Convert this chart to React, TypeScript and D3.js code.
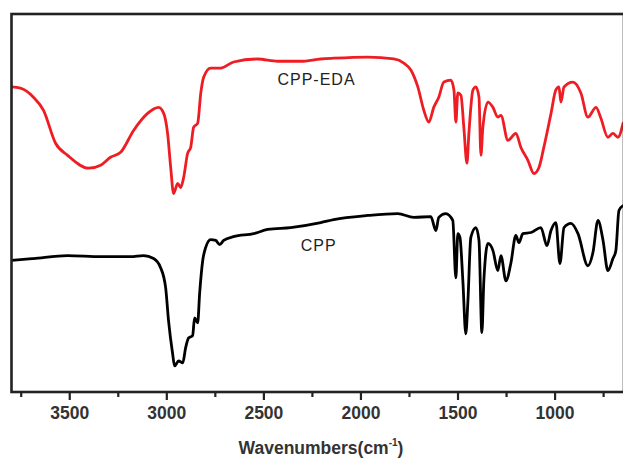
import React from "react";
import * as d3 from "d3";

// CPP-EDA (red) spectrum: wavenumber (cm-1) and transmittance (a.u.)
const edaWn = [3800, 3754, 3687, 3635, 3573, 3511, 3403, 3341, 3290, 3238, 3171, 3099, 3042, 3016, 2996, 2980, 2965, 2944, 2929, 2913, 2893, 2877, 2862, 2841, 2825, 2810, 2774, 2723, 2656, 2532, 2429, 2310, 2207, 2140, 1965, 1831, 1779, 1743, 1707, 1676, 1650, 1625, 1599, 1573, 1537, 1521, 1511, 1501, 1485, 1470, 1454, 1444, 1423, 1408, 1392, 1382, 1372, 1346, 1320, 1295, 1279, 1243, 1202, 1176, 1140, 1109, 1083, 1058, 1021, 996, 980, 970, 954, 908, 867, 831, 789, 764, 728, 702, 676, 650];
const edaT = [80.7, 80.4, 78.0, 74.5, 65.8, 62.6, 59.2, 60.0, 62.1, 63.4, 69.2, 73.7, 75.3, 73.7, 68.4, 59.4, 52.5, 55.2, 54.1, 56.8, 63.1, 64.7, 70.0, 71.1, 79.1, 83.3, 85.7, 85.7, 87.3, 88.1, 87.5, 87.5, 88.1, 88.3, 88.6, 88.1, 87.0, 85.2, 80.7, 74.5, 71.4, 75.3, 78.0, 82.0, 82.5, 79.9, 71.4, 79.1, 78.5, 70.0, 60.5, 68.4, 79.9, 80.7, 78.0, 62.6, 70.0, 76.7, 75.3, 72.7, 73.2, 66.6, 68.4, 64.7, 61.3, 57.8, 59.4, 64.7, 73.7, 79.9, 80.7, 76.7, 80.7, 82.0, 79.1, 72.7, 75.3, 72.4, 67.4, 68.4, 67.4, 71.1];

// CPP (black) spectrum
const cppWn = [3800, 3687, 3511, 3341, 3187, 3120, 3068, 3032, 3006, 2991, 2970, 2960, 2939, 2918, 2903, 2888, 2867, 2857, 2841, 2831, 2815, 2800, 2774, 2748, 2728, 2707, 2656, 2552, 2480, 2362, 2207, 2140, 1965, 1810, 1728, 1640, 1614, 1599, 1563, 1527, 1511, 1501, 1490, 1475, 1460, 1449, 1434, 1408, 1392, 1377, 1367, 1346, 1320, 1295, 1279, 1253, 1228, 1202, 1186, 1166, 1124, 1073, 1042, 1021, 996, 975, 954, 918, 882, 831, 805, 779, 753, 728, 702, 687, 671, 650];
const cppT = [34.8, 35.3, 36.1, 35.8, 35.8, 36.1, 35.3, 32.9, 27.6, 18.8, 10.1, 6.9, 8.2, 7.7, 11.7, 14.3, 14.9, 19.6, 18.3, 26.0, 34.8, 38.2, 40.3, 40.1, 39.0, 40.1, 41.1, 41.9, 43.0, 43.5, 44.8, 45.6, 46.7, 47.2, 46.2, 46.4, 42.7, 46.2, 47.2, 45.4, 30.2, 41.9, 40.9, 29.4, 15.4, 24.1, 40.9, 43.5, 40.1, 15.7, 29.4, 39.3, 37.4, 32.1, 36.1, 29.4, 34.0, 41.4, 39.5, 41.9, 42.2, 43.5, 38.7, 42.7, 44.8, 34.0, 43.5, 44.6, 41.9, 33.4, 36.9, 45.4, 40.1, 32.1, 35.3, 37.4, 48.0, 49.3];

const majorTicks = [3500, 3000, 2500, 2000, 1500, 1000];
const minorTicks = [3750, 3250, 2750, 2250, 1750, 1250, 750];

const seriesLabels = ["CPP-EDA", "CPP"];
const labelPos = [
  { wn: 2430, t: 81.2 },
  { wn: 2310, t: 37.4 },
];

const W = 623;
const H = 459;
const L = 11.5;
const R = 624;
const T = 14;
const B = 392;

export default function App() {
  const x = d3.scaleLinear().domain([3800, 645]).range([L, R]);
  const y = d3.scaleLinear().domain([0, 100]).range([B, T]);

  const line = d3
    .line<[number, number]>()
    .x((d) => x(d[0]))
    .y((d) => y(d[1]))
    .curve(d3.curveMonotoneX);

  const eda = edaWn.map((w, i) => [w, edaT[i]] as [number, number]);
  const cpp = cppWn.map((w, i) => [w, cppT[i]] as [number, number]);

  const font = "'Liberation Sans', Arial, sans-serif";

  return (
    <svg
      width={W}
      height={H}
      style={{ position: "absolute", left: 0, top: 0, background: "#fff" }}
    >
      <defs>
        <clipPath id="plotclip">
          <rect x={L} y={T} width={R - L} height={B - T} />
        </clipPath>
      </defs>
      <g clipPath="url(#plotclip)" fill="none" strokeLinejoin="round" strokeLinecap="round">
        <path d={line(eda) || ""} stroke="#ee1d23" strokeWidth={2.8} />
        <path d={line(cpp) || ""} stroke="#000" strokeWidth={2.8} />
      </g>
      {/* frame */}
      <rect x={L} y={T} width={R - L} height={B - T} fill="none" stroke="#222" strokeWidth={2.6} />
      {/* ticks */}
      {majorTicks.map((t) => (
        <line key={"M" + t} x1={x(t)} x2={x(t)} y1={B} y2={B + 8} stroke="#222" strokeWidth={2.2} />
      ))}
      {minorTicks.map((t) => (
        <line key={"m" + t} x1={x(t)} x2={x(t)} y1={B} y2={B + 5} stroke="#222" strokeWidth={2.2} />
      ))}
      {majorTicks.map((t) => (
        <text
          key={"l" + t}
          x={x(t)}
          y={419}
          textAnchor="middle"
          fontFamily={font}
          fontSize={17.5}
          fontWeight="bold"
          fill="#333"
        >
          {t}
        </text>
      ))}
      <text x={321} y={454} textAnchor="middle" fontFamily={font} fontSize={17.5} fontWeight="bold" fill="#333">
        Wavenumbers(cm
        <tspan fontSize={10} dy={-8}>-1</tspan>
        <tspan dy={8}>)</tspan>
      </text>
      {seriesLabels.map((s, i) => (
        <text
          key={s}
          x={x(labelPos[i].wn)}
          y={y(labelPos[i].t)}
          fontFamily={font}
          fontSize={16}
          letterSpacing={1}
          fill="#222"
        >
          {s}
        </text>
      ))}
    </svg>
  );
}
